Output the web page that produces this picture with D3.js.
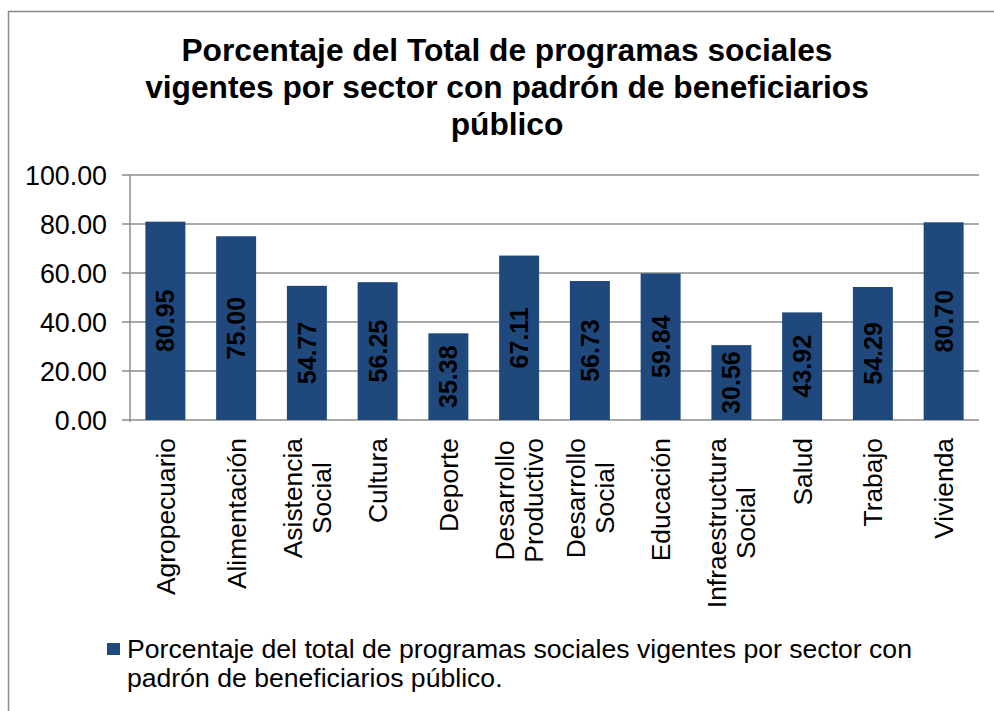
<!DOCTYPE html>
<html>
<head>
<meta charset="utf-8">
<script src="https://cdn.jsdelivr.net/npm/d3@7"></script>
<style>
  body { margin: 0; background: #fff; }
  svg { display: block; font-family: Arial, "Liberation Sans", sans-serif; }
</style>
</head>
<body>
<div id="chart"></div>
<script>
const sectors = [
  ["Agropecuario"],
  ["Alimentación"],
  ["Asistencia", "Social"],
  ["Cultura"],
  ["Deporte"],
  ["Desarrollo", "Productivo"],
  ["Desarrollo", "Social"],
  ["Educación"],
  ["Infraestructura", "Social"],
  ["Salud"],
  ["Trabajo"],
  ["Vivienda"]
];
const values = [80.95, 75.0, 54.77, 56.25, 35.38, 67.11, 56.73, 59.84, 30.56, 43.92, 54.29, 80.7];
const yTicks = [0, 20, 40, 60, 80, 100];
const titleLines = [
  "Porcentaje del Total de programas sociales",
  "vigentes por sector con padrón de beneficiarios",
  "público"
];
const legendLines = [
  "Porcentaje del total de programas sociales vigentes por sector con",
  "padrón de beneficiarios público."
];

const W = 994, H = 711;
const barColor = "#1f497d";
const gridColor = "#8c8c8c";

const svg = d3.select("#chart").append("svg").attr("width", W).attr("height", H);

// outer chart border (runs off the right and bottom edges)
svg.append("rect")
  .attr("x", 8.5).attr("y", 11.5)
  .attr("width", 1100).attr("height", 900)
  .attr("fill", "none").attr("stroke", "#8a8a8a").attr("stroke-width", 1.5);

// title
svg.append("g").selectAll("text")
  .data(titleLines)
  .join("text")
  .attr("x", 507)
  .attr("y", (d, i) => 61 + i * 37)
  .attr("text-anchor", "middle")
  .attr("font-weight", "bold")
  .attr("font-size", 31.7)
  .text((d) => d);

const x = d3.scaleBand()
  .domain(d3.range(values.length))
  .range([130, 979])
  .paddingInner(0.435)
  .paddingOuter(0.2175);

const y = d3.scaleLinear().domain([0, 100]).range([420, 175]);

// gridlines + tick marks
svg.append("g").selectAll("line")
  .data(yTicks)
  .join("line")
  .attr("x1", 122).attr("x2", 979)
  .attr("y1", (d) => y(d)).attr("y2", (d) => y(d))
  .attr("stroke", gridColor).attr("stroke-width", 1.5);

svg.append("line")
  .attr("x1", 130).attr("x2", 130)
  .attr("y1", y(100)).attr("y2", y(0) + 2)
  .attr("stroke", gridColor).attr("stroke-width", 1.5);

svg.append("g").selectAll("text")
  .data(yTicks)
  .join("text")
  .attr("x", 107)
  .attr("y", (d) => y(d))
  .attr("dy", "0.36em")
  .attr("text-anchor", "end")
  .attr("font-size", 26.8)
  .text((d) => d3.format(".2f")(d));

// bars
svg.append("g").selectAll("rect")
  .data(values)
  .join("rect")
  .attr("x", (d, i) => x(i))
  .attr("y", (d) => y(d))
  .attr("width", x.bandwidth())
  .attr("height", (d) => y(0) - y(d))
  .attr("fill", barColor);

// value labels inside bars
svg.append("g").selectAll("text")
  .data(values)
  .join("text")
  .attr("transform", (d, i) =>
    `translate(${x(i) + x.bandwidth() / 2},${(y(d) + y(0)) / 2}) rotate(-90)`)
  .attr("text-anchor", "middle")
  .attr("dy", "0.36em")
  .attr("font-weight", "bold")
  .attr("font-size", 25)
  .attr("fill", "#000")
  .text((d) => d3.format(".2f")(d));

// category labels, rotated, lines centred on each other
const catG = svg.append("g").selectAll("g")
  .data(sectors)
  .join("g")
  .attr("transform", (d, i) => `translate(${x(i) + x.bandwidth() / 2},438) rotate(-90)`);

catG.each(function (lines) {
  const g = d3.select(this);
  const texts = lines.map((line, j) =>
    g.append("text")
      .attr("font-size", 26.4)
      .attr("text-anchor", "middle")
      .attr("dy", "0.36em")
      .attr("y", (j - (lines.length - 1) / 2) * 29)
      .text(line)
  );
  const maxLen = d3.max(texts, (t) => t.node().getComputedTextLength());
  texts.forEach((t) => t.attr("x", -maxLen / 2));
});

// legend
svg.append("rect")
  .attr("x", 107).attr("y", 643)
  .attr("width", 13).attr("height", 12)
  .attr("fill", barColor);

svg.append("g").selectAll("text")
  .data(legendLines)
  .join("text")
  .attr("x", 127)
  .attr("y", (d, i) => 658 + i * 28.5)
  .attr("font-size", 26.6)
  .text((d) => d);
</script>
</body>
</html>
